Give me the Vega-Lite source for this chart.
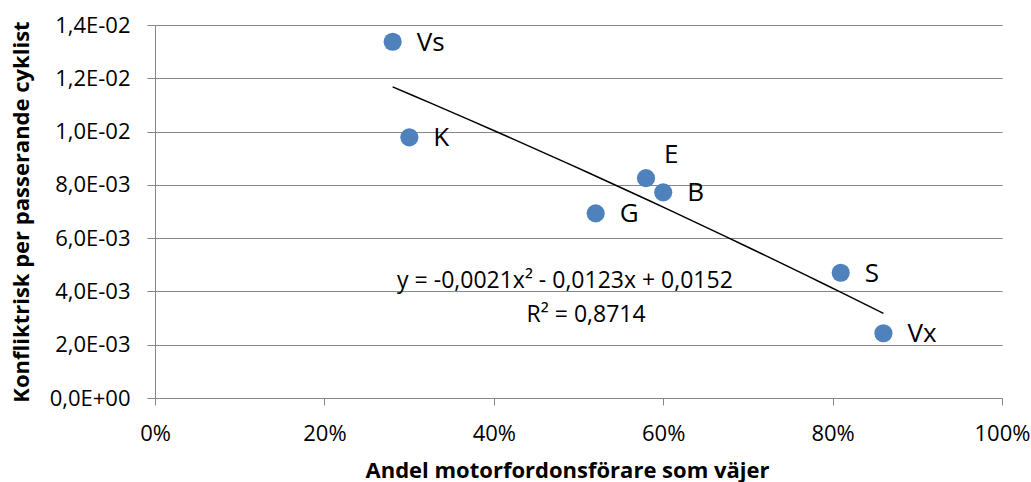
{
  "$schema": "https://vega.github.io/schema/vega-lite/v6.json",
  "width": 847,
  "height": 373,
  "autosize": "none",
  "padding": {"left": 155, "top": 25, "right": 29, "bottom": 84},
  "background": "white",
  "config": {"view": {"stroke": null}, "font": "Open Sans"},
  "data": {
    "values": [
      {"label": "Vs", "andel": 0.2806, "risk": 0.01337},
      {"label": "K", "andel": 0.3003, "risk": 0.009785},
      {"label": "E", "andel": 0.5797, "risk": 0.00825},
      {"label": "B", "andel": 0.6000, "risk": 0.00772},
      {"label": "G", "andel": 0.5203, "risk": 0.00693},
      {"label": "S", "andel": 0.8096, "risk": 0.00470},
      {"label": "Vx", "andel": 0.8600, "risk": 0.00243}
    ]
  },
  "encoding": {
    "x": {
      "field": "andel",
      "type": "quantitative",
      "scale": {"domain": [0, 1], "nice": false},
      "axis": {
        "values": [0, 0.2, 0.4, 0.6, 0.8, 1],
        "format": ".0%",
        "grid": false,
        "tickSize": 7,
        "tickColor": "#868686",
        "domainColor": "#868686",
        "labelPadding": 35,
        "labelBaseline": "alphabetic",
        "labelFontSize": 22,
        "labelColor": "black",
        "labelFont": "Open Sans",
        "labelOverlap": false,
        "labelFlush": false,
        "title": "Andel motorfordonsförare som väjer",
        "titleFont": "Open Sans",
        "titleFontSize": 22,
        "titleFontWeight": "bold",
        "titleColor": "black",
        "titleX": 412,
        "titleY": 79,
        "titleAlign": "center",
        "titleBaseline": "alphabetic"
      }
    },
    "y": {
      "field": "risk",
      "type": "quantitative",
      "scale": {"domain": [0, 0.014], "nice": false},
      "axis": {
        "values": [0, 0.002, 0.004, 0.006, 0.008, 0.01, 0.012, 0.014],
        "labelExpr": "datum.value == 0 ? '0,0E+00' : replace(format(datum.value / pow(10, floor(log(datum.value) / LN10 + 1e-9)), '.1f'), '.', ',') + 'E-0' + (-floor(log(datum.value) / LN10 + 1e-9))",
        "grid": true,
        "gridColor": "#868686",
        "gridOpacity": 1,
        "tickSize": 8,
        "tickColor": "#868686",
        "domainColor": "#868686",
        "labelPadding": 17,
        "labelFontSize": 22,
        "labelColor": "black",
        "labelFont": "Open Sans",
        "labelOverlap": false,
        "labelFlush": false,
        "title": "Konfliktrisk per passerande cyklist",
        "titleFont": "Open Sans",
        "titleFontSize": 22,
        "titleFontWeight": "bold",
        "titleColor": "black",
        "titleX": -134,
        "titleY": 186.5,
        "titleAngle": -90,
        "titleAlign": "center",
        "titleBaseline": "middle"
      }
    }
  },
  "layer": [
    {
      "mark": {"type": "point", "filled": true, "size": 330, "color": "#4F81BD", "opacity": 1}
    },
    {
      "transform": [{"regression": "risk", "on": "andel", "method": "poly", "order": 2}],
      "mark": {"type": "line", "color": "black", "strokeWidth": 1.5}
    },
    {
      "transform": [{"filter": "datum.label != 'E'"}],
      "mark": {"type": "text", "align": "left", "baseline": "middle", "dx": 24, "dy": 1, "fontSize": 26, "font": "Open Sans", "color": "black"},
      "encoding": {"text": {"field": "label"}}
    },
    {
      "transform": [{"filter": "datum.label == 'E'"}],
      "mark": {"type": "text", "align": "left", "baseline": "middle", "dx": 18, "dy": -23, "fontSize": 26, "font": "Open Sans", "color": "black"},
      "encoding": {"text": {"field": "label"}}
    },
    {
      "transform": [{"filter": "datum.label == 'Vs'"}],
      "mark": {"type": "text", "align": "center", "baseline": "alphabetic", "fontSize": 23, "font": "Open Sans", "color": "black"},
      "encoding": {
        "x": {"datum": 0.484},
        "y": {"datum": 0.00413},
        "text": {"value": "y = -0,0021x² - 0,0123x + 0,0152"}
      }
    },
    {
      "transform": [{"filter": "datum.label == 'Vs'"}],
      "mark": {"type": "text", "align": "center", "baseline": "alphabetic", "fontSize": 23, "font": "Open Sans", "color": "black"},
      "encoding": {
        "x": {"datum": 0.509},
        "y": {"datum": 0.00285},
        "text": {"value": "R² = 0,8714"}
      }
    }
  ]
}
